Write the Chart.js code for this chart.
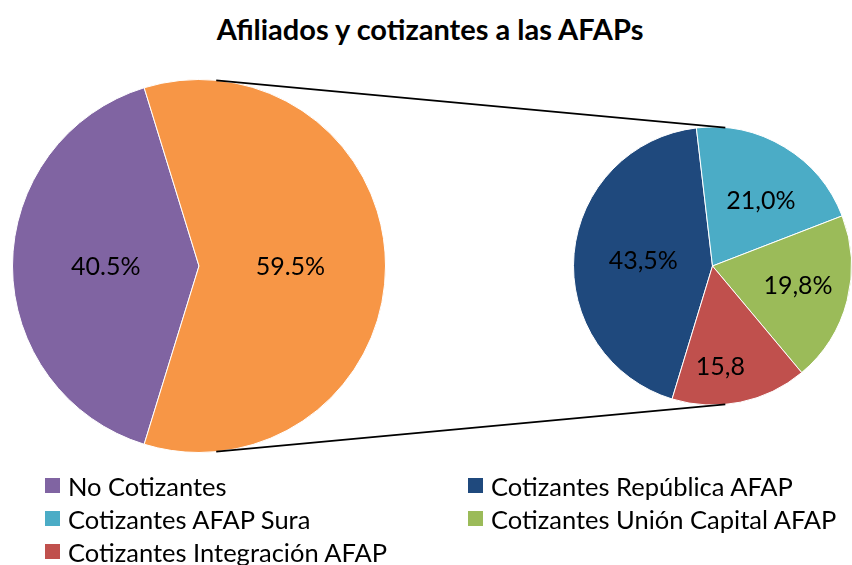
<!DOCTYPE html>
<html>
<head>
<meta charset="utf-8">
<script src="https://cdn.jsdelivr.net/npm/chart.js@4.4.1/dist/chart.umd.min.js"></script>
<style>
  html, body { margin: 0; padding: 0; background: #fff; }
  #wrap { position: relative; width: 852px; height: 565px; overflow: hidden; font-family: Lato, "Open Sans", sans-serif; }
  #wrap canvas { position: absolute; left: 0; top: 0; }
  #title { position: absolute; left: 0; width: 860px; top: 11px; text-align: center; font-weight: bold; font-size: 29px; color: #000; }
  #legend { position: absolute; left: 45px; top: 469px; display: grid; grid-template-columns: 423px 380px; grid-auto-rows: 33px; font-size: 25.5px; color: #000; }
  .item { display: flex; align-items: center; white-space: nowrap; }
  .box { width: 15px; height: 15px; margin-right: 8px; flex: none; }
</style>
</head>
<body>
<div id="wrap">
  <div id="title">Afiliados y cotizantes a las AFAPs</div>
  <canvas id="leftPie" width="852" height="565"></canvas>
  <canvas id="rightPie" width="852" height="565"></canvas>
  <div id="legend"></div>
</div>
<script>
// main pie: afiliados
const mainLabels = ["No Cotizantes", "Cotizantes"];
const mainValues = [40.5, 59.5];
const mainText = ["40.5%", "59.5%"];
const mainColors = ["#8064A2", "#F79646"];

// second pie: cotizantes by AFAP
const afapLabels = ["Cotizantes República AFAP", "Cotizantes AFAP Sura", "Cotizantes Unión Capital AFAP", "Cotizantes Integración AFAP"];
const afapValues = [43.5, 21.0, 19.8, 15.8];
const afapText = ["43,5%", "21,0%", "19,8%", "15,8"];
const afapColors = ["#1F497D", "#4BACC6", "#9BBB59", "#C0504D"];

// legend order as in the picture (row by row, two columns)
const legendItems = [
  [mainLabels[0], mainColors[0]],
  [afapLabels[0], afapColors[0]],
  [afapLabels[1], afapColors[1]],
  [afapLabels[2], afapColors[2]],
  [afapLabels[3], afapColors[3]],
];

const legendEl = document.getElementById("legend");
legendItems.forEach(([txt, col]) => {
  const d = document.createElement("div");
  d.className = "item";
  d.innerHTML = '<span class="box" style="background:' + col + '"></span><span>' + txt + '</span>';
  legendEl.appendChild(d);
});

// labels inside slices
const sliceLabels = {
  id: "sliceLabels",
  afterDatasetsDraw(chart, args, opts) {
    const ctx = chart.ctx;
    const meta = chart.getDatasetMeta(0);
    ctx.save();
    ctx.font = "25px Lato";
    ctx.fillStyle = "#000";
    ctx.textAlign = "center";
    ctx.textBaseline = "middle";
    meta.data.forEach((arc, i) => {
      const mid = (arc.startAngle + arc.endAngle) / 2 + (opts.shift[i] || 0) * Math.PI / 180;
      const d = arc.outerRadius * opts.dist[i];
      ctx.fillText(opts.text[i], arc.x + Math.cos(mid) * d, arc.y + Math.sin(mid) * d + 1);
    });
    ctx.restore();
  }
};

// connector lines between the two pies
const connector = {
  id: "connector",
  afterDraw(chart) {
    const a = leftChart.getDatasetMeta(0).data[0];
    const b = chart.getDatasetMeta(0).data[0];
    const t = 5.3 * Math.PI / 180;
    const ctx = chart.ctx;
    ctx.save();
    ctx.strokeStyle = "#000";
    ctx.lineWidth = 1.8;
    ctx.beginPath();
    ctx.moveTo(a.x + Math.sin(t) * a.outerRadius, a.y - Math.cos(t) * a.outerRadius);
    ctx.lineTo(b.x + Math.sin(t) * b.outerRadius, b.y - Math.cos(t) * b.outerRadius);
    ctx.moveTo(a.x + Math.sin(t) * a.outerRadius, a.y + Math.cos(t) * a.outerRadius);
    ctx.lineTo(b.x + Math.sin(t) * b.outerRadius, b.y + Math.cos(t) * b.outerRadius);
    ctx.stroke();
    ctx.restore();
  }
};

const baseOpts = {
  responsive: false,
  animation: false,
  events: [],
  plugins: { legend: { display: false }, tooltip: { enabled: false } },
};

const leftChart = new Chart(document.getElementById("leftPie"), {
  type: "pie",
  data: {
    labels: mainLabels,
    datasets: [{ data: mainValues, backgroundColor: mainColors, borderColor: "#fff", borderWidth: 1 }]
  },
  options: {
    ...baseOpts,
    rotation: 197.1,
    layout: { padding: { left: 12, top: 79, right: 466, bottom: 112 } },
    plugins: { ...baseOpts.plugins, sliceLabels: { text: mainText, dist: [0.5, 0.49], shift: [0, 0] } }
  },
  plugins: [sliceLabels]
});

const rightChart = new Chart(document.getElementById("rightPie"), {
  type: "pie",
  data: {
    labels: afapLabels,
    datasets: [{ data: afapValues, backgroundColor: afapColors, borderColor: "#fff", borderWidth: 1 }]
  },
  options: {
    ...baseOpts,
    rotation: 196.9,
    layout: { padding: { left: 573, top: 126, right: 0, bottom: 159 } },
    plugins: { ...baseOpts.plugins, sliceLabels: { text: afapText, dist: [0.5, 0.59, 0.63, 0.72], shift: [0, 5, -2, 7] } }
  },
  plugins: [sliceLabels, connector]
});
</script>
</body>
</html>
